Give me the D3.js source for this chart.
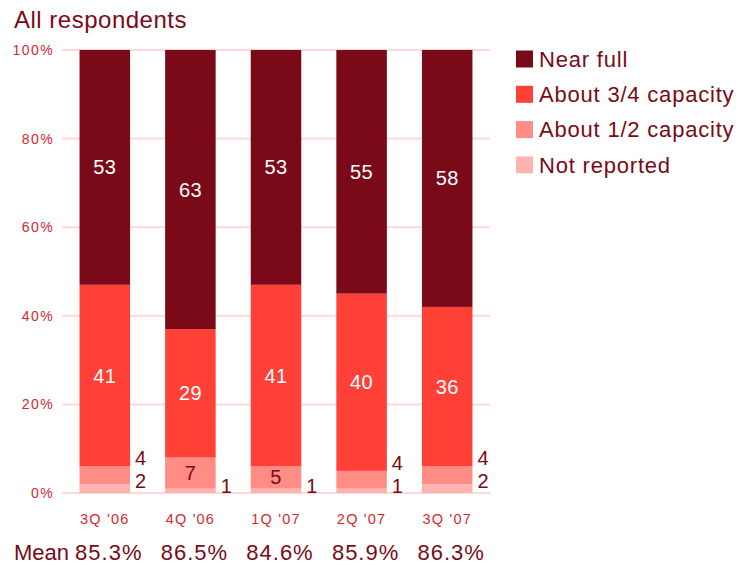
<!DOCTYPE html>
<html>
<head>
<meta charset="utf-8">
<script src="https://cdn.jsdelivr.net/npm/d3@7"></script>
<style>
  html, body { margin: 0; padding: 0; background: #fff; }
  svg { display: block; font-family: "Liberation Sans", Arial, sans-serif; }
</style>
</head>
<body>
<svg id="chart" width="754" height="565"></svg>
<script>
// Survey quarters and the share of respondents in each capacity band (%)
const quarters = ["3Q '06", "4Q '06", "1Q '07", "2Q '07", "3Q '07"];
const notReported = [2, 1, 1, 1, 2];
const halfCapacity = [4, 7, 5, 4, 4];
const threeQuarterCapacity = [41, 29, 41, 40, 36];
const nearFull = [53, 63, 53, 55, 58];
const means = ["85.3%", "86.5%", "84.6%", "85.9%", "86.3%"];
const yTicks = [0, 20, 40, 60, 80, 100];

const seriesNames = ["Not reported", "About 1/2 capacity", "About 3/4 capacity", "Near full"];
const seriesValues = [notReported, halfCapacity, threeQuarterCapacity, nearFull];
const colors = ["#ffb3ae", "#ff8d86", "#ff4036", "#7a0a17"];
const darkRed = "#7a0a17";
const tickRed = "#d42a2f";

const svg = d3.select("#chart");

const rows = quarters.map((q, i) => {
  const r = { quarter: q };
  seriesNames.forEach((s, k) => r[s] = seriesValues[k][i]);
  return r;
});
const stacked = d3.stack().keys(seriesNames)(rows);

const x = d3.scaleBand().domain(quarters).range([62, 490]).paddingInner(0.41).paddingOuter(0.205);
const y = d3.scaleLinear().domain([0, 100]).range([493, 50]);

// Title
svg.append("text").attr("x", 14).attr("y", 28)
  .attr("font-size", 24).attr("letter-spacing", 0.5).attr("fill", darkRed).text("All respondents");

// Gridlines
svg.append("g").selectAll("line").data(yTicks).join("line")
  .attr("x1", 62).attr("x2", 490)
  .attr("y1", d => y(d)).attr("y2", d => y(d))
  .attr("stroke", "#ffd9d9").attr("stroke-width", 2);

// Y axis labels
const yAxis = svg.append("g").attr("transform", "translate(54,0)")
  .call(d3.axisLeft(y).tickValues(yTicks).tickFormat(d => d + "%").tickSize(0).tickPadding(0));
yAxis.select(".domain").remove();
yAxis.selectAll("text").attr("font-size", 14).attr("fill", tickRed)
  .attr("font-family", "Liberation Sans, Arial, sans-serif").attr("letter-spacing", 1.4);

// Bars
svg.append("g").selectAll("g").data(stacked).join("g")
  .attr("fill", (d, k) => colors[k])
  .selectAll("rect").data(d => d).join("rect")
  .attr("x", d => x(d.data.quarter))
  .attr("width", x.bandwidth())
  .attr("y", d => y(d[1]))
  .attr("height", d => y(d[0]) - y(d[1]));

// Segment value labels: inside when the segment is tall enough, otherwise beside the bar
const labels = svg.append("g").attr("font-size", 20).attr("letter-spacing", 0.4);
stacked.forEach((layer, k) => {
  layer.forEach((d, i) => {
    const v = seriesValues[k][i];
    const h = y(d[0]) - y(d[1]);
    const cx = x(d.data.quarter) + x.bandwidth() / 2;
    if (h >= 20) {
      labels.append("text")
        .attr("x", cx).attr("y", (y(d[0]) + y(d[1])) / 2)
        .attr("dy", "0.35em").attr("text-anchor", "middle")
        .attr("fill", k >= 2 ? "#ffffff" : darkRed).text(v);
    } else {
      const offset = k === 0 ? -3 : -8;
      labels.append("text")
        .attr("x", x(d.data.quarter) + x.bandwidth() + 5)
        .attr("y", y(d[1]) + offset)
        .attr("dy", "0.35em").attr("text-anchor", "start")
        .attr("fill", darkRed).text(v);
    }
  });
});

// Category axis
const xAxis = svg.append("g").attr("transform", "translate(0,519)")
  .call(d3.axisBottom(x).tickSize(0).tickPadding(0));
xAxis.select(".domain").remove();
xAxis.selectAll("text").attr("font-size", 14.5).attr("fill", tickRed).attr("dy", "0.35em")
  .attr("font-family", "Liberation Sans, Arial, sans-serif").attr("letter-spacing", 1.2);

// Mean row
svg.append("text").attr("x", 14).attr("y", 560)
  .attr("font-size", 22).attr("fill", darkRed).text("Mean");
svg.append("g").selectAll("text").data(means).join("text")
  .attr("x", (d, i) => x(quarters[i]) + x.bandwidth() / 2 + 4)
  .attr("y", 560).attr("text-anchor", "middle")
  .attr("font-size", 22).attr("letter-spacing", 1.0).attr("fill", darkRed).text(d => d);

// Legend
const legendOrder = [3, 2, 1, 0];
const legend = svg.append("g").selectAll("g").data(legendOrder).join("g")
  .attr("transform", (k, j) => `translate(516,${59 + j * 35.3})`);
legend.append("rect").attr("x", 0).attr("y", -8.5).attr("width", 17).attr("height", 17)
  .attr("fill", k => colors[k]);
legend.append("text").attr("x", 23).attr("dy", "0.35em")
  .attr("font-size", 22).attr("letter-spacing", 0.8).attr("fill", darkRed).text(k => seriesNames[k]);
</script>
</body>
</html>
